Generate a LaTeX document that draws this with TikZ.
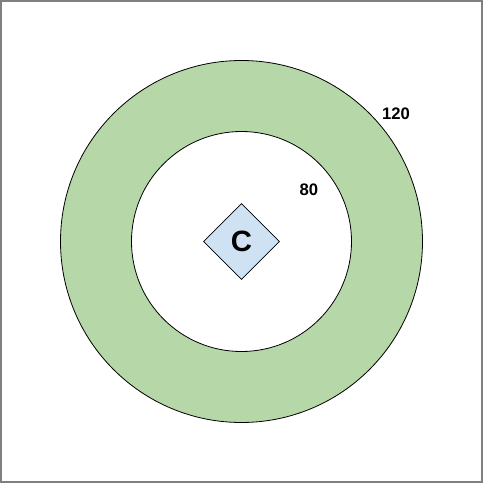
\documentclass[tikz,border=0pt]{standalone}
\usepackage{fontspec}
\setmainfont{Liberation Sans}
\usetikzlibrary{shapes.geometric}
\definecolor{ringgreen}{HTML}{B6D7A8}
\definecolor{centerblue}{HTML}{CFE2F3}
\tikzset{
  ring/.style={circle, draw=black, line width=0.6pt, inner sep=0pt},
  radius label/.style={font=\bfseries\fontsize{12.5}{14}\selectfont},
}
\begin{document}
\begin{tikzpicture}[x=0.75pt,y=0.75pt]
      \useasboundingbox (0,0) rectangle (483,483);
      \draw[gray, line width=1.2pt] (0.8,0.8) rectangle (482.2,482.2);
      \node[ring, fill=ringgreen, minimum size=362*0.75pt] (outer) at (241.5,241.5) {};
      \node[ring, fill=white, minimum size=220*0.75pt] (inner) at (241.5,241.5) {};
      \node[diamond, draw=black, line width=0.6pt, fill=centerblue, inner sep=0pt,
        minimum size=76*0.75pt, font=\bfseries\fontsize{22}{24}\selectfont] (c) at (241.5,241.5) {C};
      \draw
        (396,369) node[radius label] (r120){120}
        (309,293) node[radius label] (r80){80};
    \end{tikzpicture}
\end{document}
